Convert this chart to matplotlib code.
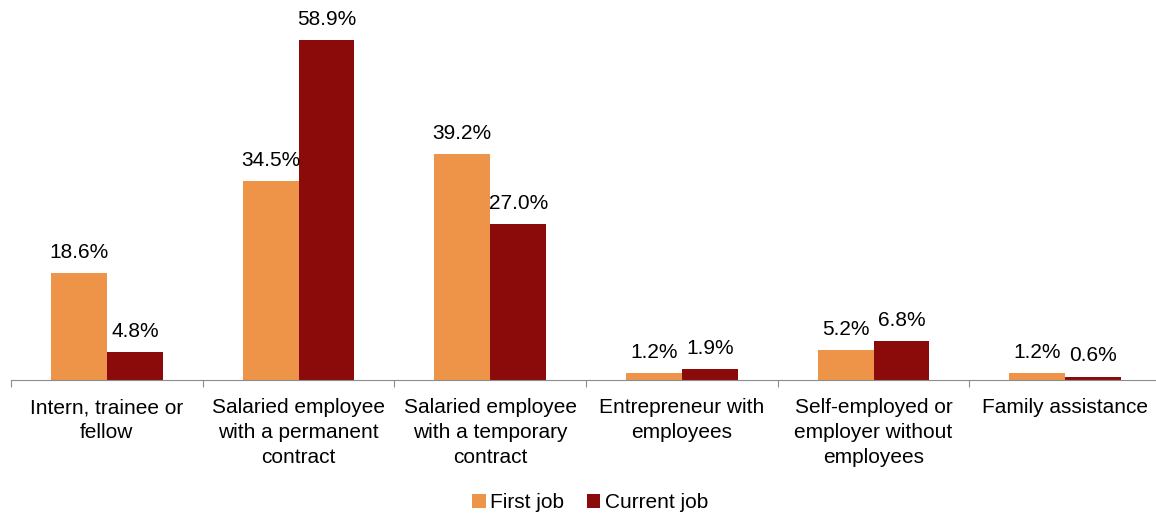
import numpy as np
import matplotlib.pyplot as plt

plt.rcParams['font.family'] = ['Liberation Sans', 'DejaVu Sans']

categories = [
    'Intern, trainee or\nfellow',
    'Salaried employee\nwith a permanent\ncontract',
    'Salaried employee\nwith a temporary\ncontract',
    'Entrepreneur with\nemployees',
    'Self-employed or\nemployer without\nemployees',
    'Family assistance',
]
first_job = [18.6, 34.5, 39.2, 1.2, 5.2, 1.2]
current_job = [4.8, 58.9, 27.0, 1.9, 6.8, 0.6]

ORANGE = '#EE9449'
RED = '#8B0B0B'

fig = plt.figure(figsize=(11.56, 5.15), dpi=100)
ax = fig.add_axes([11 / 1156, 135 / 515, 1150 / 1156, 380 / 515])

x = np.arange(len(categories))
w = 0.292
b1 = ax.bar(x - w / 2, first_job, w, color=ORANGE, label='First job')
b2 = ax.bar(x + w / 2, current_job, w, color=RED, label='Current job')
ax.bar_label(b1, labels=[f'{v:.1f}%' for v in first_job], padding=8, fontsize=15)
ax.bar_label(b2, labels=[f'{v:.1f}%' for v in current_job], padding=8, fontsize=15)

ax.set_xlim(-0.5, len(categories) - 0.5)
ax.set_ylim(0, 65.9)

for s in ['top', 'right', 'left']:
    ax.spines[s].set_visible(False)
ax.spines['bottom'].set_color('#8c8c8c')
ax.set_yticks([])

ax.set_xticks(np.arange(len(categories) + 1) - 0.5)
ax.set_xticklabels([])
ax.tick_params(axis='x', which='major', length=5, color='#8c8c8c')
ax.set_xticks(x, minor=True)
ax.set_xticklabels(categories, minor=True, fontsize=15, linespacing=1.4, va='top')
ax.tick_params(axis='x', which='minor', length=0, pad=13)

fig.legend(handles=[b1, b2], loc='center', bbox_to_anchor=(590 / 1156, 1 - 503 / 515),
           ncol=2, frameon=False, fontsize=15, handlelength=0.65, handleheight=0.65,
           handletextpad=0.2, columnspacing=1.1)

fig.savefig('out.png', dpi=100)
